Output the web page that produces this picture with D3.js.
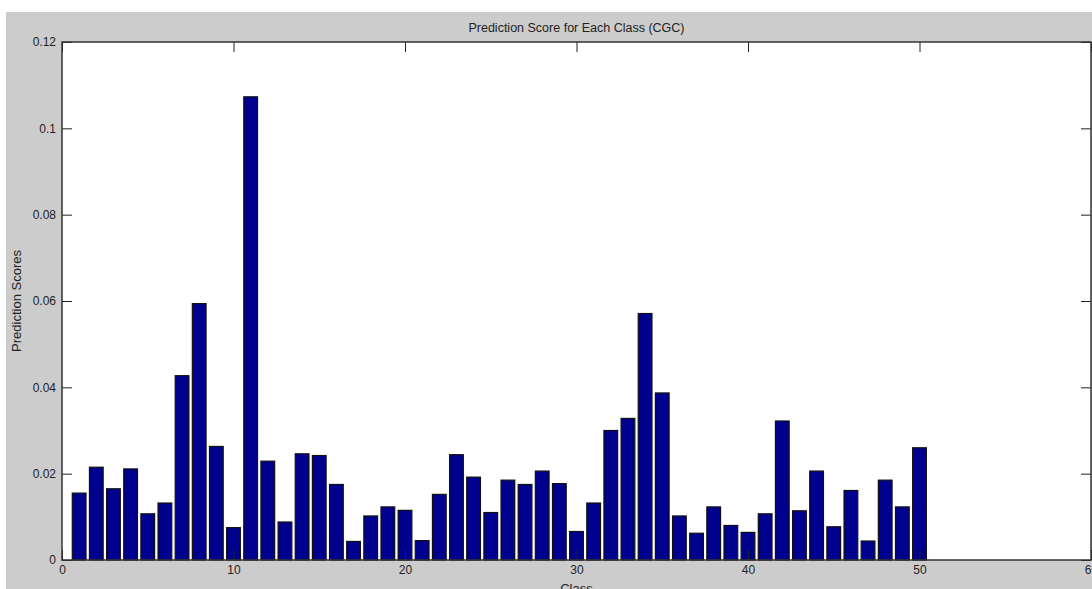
<!DOCTYPE html>
<html>
<head>
<meta charset="utf-8">
<script src="https://cdn.jsdelivr.net/npm/d3@7"></script>
<style>
  body { margin: 0; background: #fff; }
  text { font-family: "Liberation Sans", Arial, sans-serif; fill: #222; }
</style>
</head>
<body>
<script>
//class numbers and their prediction scores
var classes = d3.range(1, 51);
var scores = [
  0.0155, 0.0215, 0.0165, 0.0211, 0.0107, 0.0132, 0.0427, 0.0594, 0.0263, 0.0075,
  0.1073, 0.0229, 0.0088, 0.0246, 0.0242, 0.0175, 0.0043, 0.0102, 0.0123, 0.0115,
  0.0045, 0.0152, 0.0244, 0.0192, 0.0110, 0.0185, 0.0175, 0.0206, 0.0177, 0.0066,
  0.0132, 0.0300, 0.0328, 0.0571, 0.0387, 0.0102, 0.0062, 0.0123, 0.0080, 0.0064,
  0.0107, 0.0322, 0.0114, 0.0206, 0.0077, 0.0161, 0.0044, 0.0185, 0.0123, 0.0260
];
var xTicks = [0, 10, 20, 30, 40, 50, 60];
var yTicks = [0, 0.02, 0.04, 0.06, 0.08, 0.1, 0.12];

var w = 1092, h = 589;
var svg = d3.select("body").append("svg")
  .attr("width", w)
  .attr("height", h);

//grey figure background
svg.append("rect")
  .attr("x", 6).attr("y", 12)
  .attr("width", w - 6).attr("height", h - 12)
  .style("fill", "#cccccc");

//plot box edges
var pLeft = 62, pRight = 1091, pTop = 42, pBottom = 560;

var x = d3.scaleLinear().domain([0, 60]).range([pLeft, pRight]);
var y = d3.scaleLinear().domain([0, 0.12]).range([pBottom, pTop]);

//white plot area
svg.append("rect")
  .attr("x", pLeft).attr("y", pTop)
  .attr("width", pRight - pLeft).attr("height", pBottom - pTop)
  .style("fill", "#ffffff");

//bars, 0.8 of a class wide like matlab's default
var bw = x(0.8) - x(0);
svg.selectAll(".bar")
  .data(scores)
  .enter()
  .append("rect")
  .attr("class", "bar")
  .attr("x", function(d, i){ return x(classes[i]) - bw / 2; })
  .attr("y", function(d){ return y(d); })
  .attr("width", bw)
  .attr("height", function(d){ return y(0) - y(d); })
  .style("fill", "#00008f")
  .style("stroke", "#111")
  .style("stroke-width", 1.2);

//axes with inward ticks, mirrored on top and right
var axisStyle = function(g){
  g.select(".domain").remove();
  g.selectAll(".tick line").style("stroke", "#222");
  g.selectAll(".tick text")
    .style("font-family", "'Liberation Sans', Arial, sans-serif")
    .style("font-size", "12px")
    .style("fill", "#222");
};

svg.append("g")
  .attr("transform", "translate(0," + pBottom + ")")
  .call(d3.axisBottom(x).tickValues(xTicks).tickSizeInner(-10).tickSizeOuter(0).tickPadding(5).tickFormat(d3.format("d")))
  .call(axisStyle);

svg.append("g")
  .attr("transform", "translate(0," + pTop + ")")
  .call(d3.axisTop(x).tickValues(xTicks).tickSizeInner(-10).tickSizeOuter(0).tickFormat(""))
  .call(axisStyle);

svg.append("g")
  .attr("transform", "translate(" + pLeft + ",0)")
  .call(d3.axisLeft(y).tickValues(yTicks).tickSizeInner(-10).tickSizeOuter(0).tickPadding(6).tickFormat(function(d){ return d3.format("")(+d.toFixed(2)); }))
  .call(axisStyle);

svg.append("g")
  .attr("transform", "translate(" + pRight + ",0)")
  .call(d3.axisRight(y).tickValues(yTicks).tickSizeInner(-10).tickSizeOuter(0).tickFormat(""))
  .call(axisStyle);

//plot box
svg.append("rect")
  .attr("x", pLeft).attr("y", pTop)
  .attr("width", pRight - pLeft).attr("height", pBottom - pTop)
  .style("fill", "none")
  .style("stroke", "#333")
  .style("stroke-width", 1.5);

//title and axis labels
svg.append("text")
  .attr("x", (pLeft + pRight) / 2)
  .attr("y", 32)
  .attr("text-anchor", "middle")
  .style("font-size", "12.5px")
  .text("Prediction Score for Each Class (CGC)");

svg.append("text")
  .attr("x", (pLeft + pRight) / 2)
  .attr("y", 593)
  .attr("text-anchor", "middle")
  .style("font-size", "13px")
  .text("Class");

svg.append("text")
  .attr("transform", "translate(21," + (pTop + pBottom) / 2 + ") rotate(-90)")
  .attr("text-anchor", "middle")
  .style("font-size", "13px")
  .text("Prediction Scores");
</script>
</body>
</html>
